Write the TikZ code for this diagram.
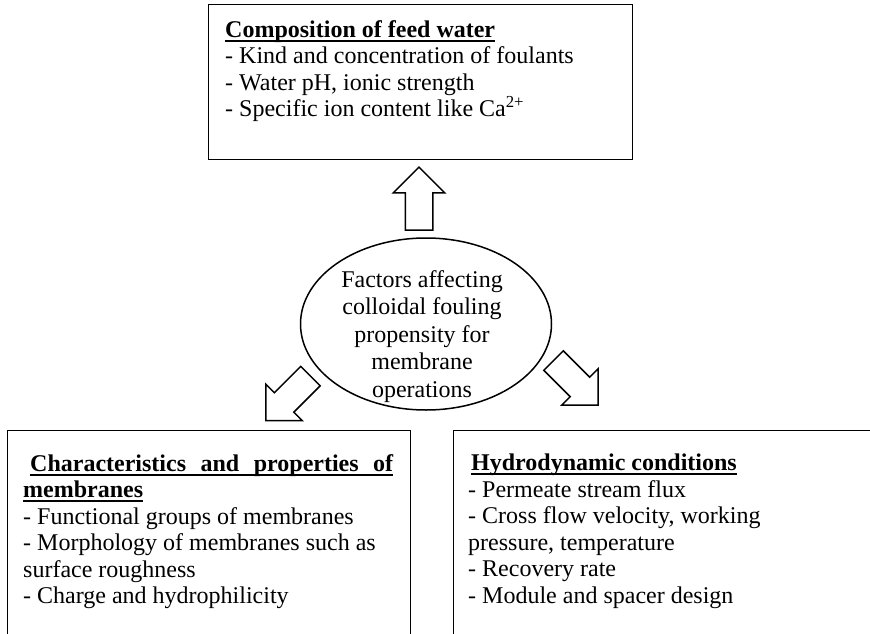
\documentclass[tikz,border=0pt]{standalone}
\usepackage{fontspec}
\setmainfont{Liberation Serif}
\usetikzlibrary{shapes.geometric,shapes.arrows,positioning}
\tikzstyle{panel}=[draw,line width=1.2pt,rectangle,inner sep=0pt,anchor=north west]
\tikzstyle{paneltext}=[align=left,inner sep=0pt,anchor=north west,font=\fontsize{24}{26.5}\selectfont]
\tikzstyle{hub}=[draw,line width=1.5pt,ellipse,minimum width=251pt,minimum height=172pt,inner sep=0pt]
\tikzstyle{hubtext}=[align=center,inner sep=0pt,font=\fontsize{24}{27.5}\selectfont]
\tikzstyle{fatarrow}=[draw,line width=1.5pt,single arrow,single arrow head extend=12pt,minimum height=63pt,inner xsep=0pt,inner ysep=13pt]
\newcommand{\undertitle}[1]{\setbox0=\hbox{#1}\rlap{\rule[-4.5pt]{\wd0}{2pt}}\box0}
\begin{document}
\begin{tikzpicture}[x=1pt,y=-1pt]
\useasboundingbox (0,0) rectangle (870,634);
\clip (0,0) rectangle (870,634);
% the three boxes
\node [panel, minimum width=424pt, minimum height=155pt] (feedbox) at (208,4) {};
\node [panel, minimum width=403pt, minimum height=260pt] (membox) at (7,430) {};
\node [panel, minimum width=460pt, minimum height=260pt] (hydrobox) at (453,430) {};
\node [paneltext] (feedtext) at (225,20) {\textbf{\undertitle{Composition of feed water}}\\
  - Kind and concentration of foulants\\
  - Water pH, ionic strength\\
  - Specific ion content like Ca\textsuperscript{2+}};
\node [paneltext] (memtext) at (23,454) {\hspace*{7pt}\textbf{\undertitle{\makebox[363pt][s]{Characteristics and properties of}}}\\
  \textbf{\undertitle{membranes}}\\
  - Functional groups of membranes\\
  - Morphology of membranes such as\\
  surface roughness\\
  - Charge and hydrophilicity};
\node [paneltext] (hydrotext) at (468,454) {\hspace*{3pt}\textbf{\undertitle{Hydrodynamic conditions}}\\
  - Permeate stream flux\\
  - Cross flow velocity, working\\
  pressure, temperature\\
  - Recovery rate\\
  - Module and spacer design};
% centre
\node [hub] (factors) at (426,324) {};
\node [hubtext] (factorstext) at (422,336.5) {Factors affecting\\colloidal fouling\\propensity for\\membrane\\operations};
% block arrows
\node [fatarrow, rotate=90] (uparrow) at (419,205.5) {};
\node [fatarrow, rotate=225] (leftarrow) at (293,393.5) {};
\node [fatarrow, rotate=-45] (rightarrow) at (571,378) {};
\end{tikzpicture}
\end{document}
